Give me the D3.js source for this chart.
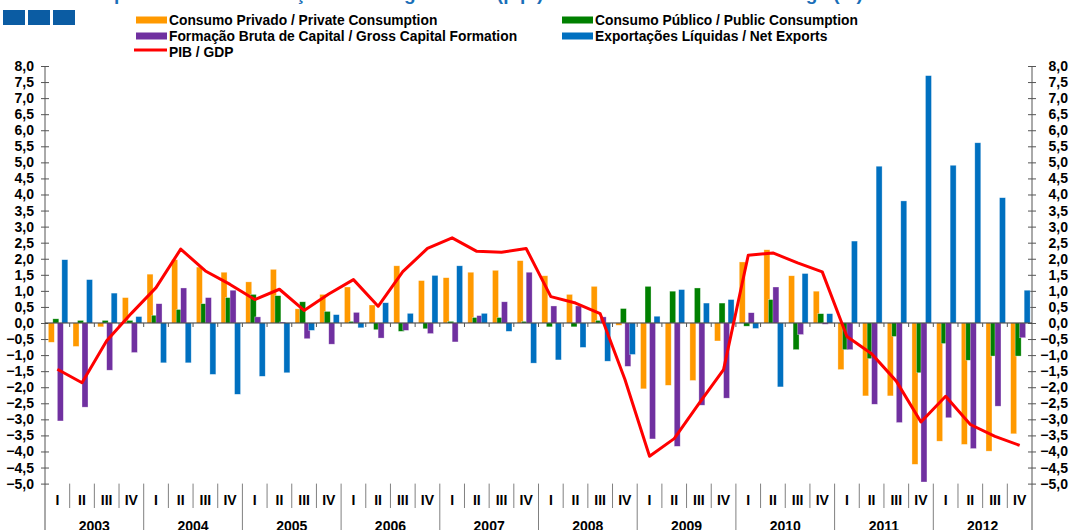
<!DOCTYPE html>
<html>
<head>
<meta charset="utf-8">
<script src="https://cdn.jsdelivr.net/npm/d3@7"></script>
<style>
  html, body { margin: 0; padding: 0; background: #fff; }
  svg { display: block; font-family: "Liberation Sans", Arial, sans-serif; }
</style>
</head>
<body>
<svg id="chart" width="1073" height="530"></svg>
<script>
// ---------------- data ----------------
const years = ["2003","2004","2005","2006","2007","2008","2009","2010","2011","2012"];
const quarterNames = ["I","II","III","IV"];
const yTickValues = [-5,-4.5,-4,-3.5,-3,-2.5,-2,-1.5,-1,-0.5,0,0.5,1,1.5,2,2.5,3,3.5,4,4.5,5,5.5,6,6.5,7,7.5,8];

const privateConsumption = [
  -0.60,-0.73,-0.12, 0.79,  1.52, 1.97, 1.74, 1.58,  1.28, 1.67, 0.44, 0.89,
   1.12, 0.56, 1.78, 1.32,  1.41, 1.58, 1.64, 1.94,  1.47, 0.89, 1.14,-0.07,
  -2.05,-1.94,-1.79,-0.56,  1.90, 2.28, 1.47, 0.99, -1.45,-2.27,-2.27,-4.40,
  -3.68,-3.78,-3.99,-3.45];
const publicConsumption = [
   0.13, 0.08, 0.08, 0.08,  0.24, 0.42, 0.60, 0.79,  0.89, 0.85, 0.66, 0.36,
   0.05,-0.21,-0.26,-0.18,  0.05, 0.17, 0.17, 0.05, -0.12,-0.12, 0.08, 0.45,
   1.14, 0.99, 1.09, 0.62, -0.10, 0.73,-0.83, 0.29, -0.83,-1.11,-0.42,-1.55,
  -0.64,-1.16,-1.03,-1.03];
const grossCapital = [
  -3.05,-2.62,-1.47,-0.92,  0.60, 1.09, 0.79, 1.02,  0.19, 0.03,-0.49,-0.66,
   0.33,-0.47,-0.23,-0.33, -0.59, 0.23, 0.66, 1.58,  0.53, 0.53, 0.19,-1.35,
  -3.61,-3.84,-2.56,-2.34,  0.32, 1.12,-0.36,-0.04, -0.83,-2.53,-3.10,-4.95,
  -2.95,-3.91,-2.59,-0.46];
const netExports = [
   1.97, 1.35, 0.93, 0.20, -1.24,-1.24,-1.60,-2.22, -1.66,-1.55,-0.23, 0.26,
  -0.15, 0.63, 0.30, 1.48,  1.78, 0.30,-0.26,-1.25, -1.15,-0.76,-1.19,-0.98,
   0.21, 1.04, 0.62, 0.73, -0.17,-1.99, 1.54, 0.29,  2.55, 4.88, 3.80, 7.70,
   4.91, 5.61, 3.90, 1.02];
const gdp = [
  -1.44,-1.86,-0.55, 0.30,  1.10, 2.30, 1.62, 1.20,  0.73, 1.05, 0.39, 0.90,
   1.35, 0.52, 1.60, 2.32,  2.65, 2.23, 2.20, 2.32,  0.82, 0.62, 0.29,-1.75,
  -4.15,-3.60,-2.51,-1.45,  2.11, 2.18, 1.87, 1.59, -0.42,-0.96,-1.81,-3.08,
  -2.28,-3.16,-3.53,-3.81];

const seriesNames = [
  "Consumo Privado / Private Consumption",
  "Consumo Público / Public Consumption",
  "Formação Bruta de Capital / Gross Capital Formation",
  "Exportações Líquidas / Net Exports"
];
const gdpName = "PIB / GDP";
const titleText = "Contributos para a Taxa de Variação Homóloga do PIB (p.p.) / Contributions to GDP Change (%)";

// ---------------- styling ----------------
const seriesColors = ["#FF9900", "#008000", "#7030A0", "#0070C0"];
const gdpColor = "#FF0000";

const W = 1073, H = 530;
const plotLeft = 45, plotRight = 1032, plotTop = 66, plotBottom = 483.6;

const svg = d3.select("#chart");

// quarter keys
const keys = [];
years.forEach(y => quarterNames.forEach(q => keys.push(y + "-" + q)));

const x = d3.scaleBand().domain(keys).range([plotLeft, plotRight]).padding(0);
const bw = x.bandwidth();
const seriesKeys = ["priv", "pub", "cap", "net"];
const xInner = d3.scaleBand().domain(seriesKeys).range([bw * 0.135, bw * 0.135 + 18]).padding(0);
const barW = 6;

const y = d3.scaleLinear().domain([-5, 8]).range([plotBottom, plotTop]);
const fmt = v => d3.format(".1f")(v).replace(".", ",");

// ---------------- title (cut off at the top) & logo ----------------
svg.append("text")
  .attr("x", 1).attr("y", -0.5)
  .attr("font-size", 19).attr("font-weight", "bold")
  .attr("fill", "#1A6FB8")
  .text(titleText);

const logo = d3.scaleBand().domain([0,1,2]).range([3, 75]).paddingInner(0.12);
svg.append("g").selectAll("rect").data([0,1,2]).join("rect")
  .attr("x", d => logo(d)).attr("y", 10)
  .attr("width", logo.bandwidth()).attr("height", 15)
  .attr("fill", "#0B5CA3");

// ---------------- legend ----------------
const legendItems = [
  {name: seriesNames[0], color: seriesColors[0], x: 136, y: 20, type: "rect"},
  {name: seriesNames[2], color: seriesColors[2], x: 136, y: 36, type: "rect"},
  {name: gdpName, color: gdpColor, x: 136, y: 51.5, type: "line"},
  {name: seriesNames[1], color: seriesColors[1], x: 562, y: 20, type: "rect"},
  {name: seriesNames[3], color: seriesColors[3], x: 562, y: 36, type: "rect"}
];
const lg = svg.append("g");
legendItems.forEach(it => {
  if (it.type === "rect") {
    lg.append("rect").attr("x", it.x).attr("y", it.y - 3.5).attr("width", 31).attr("height", 7).attr("fill", it.color);
  } else {
    lg.append("line").attr("x1", it.x - 2).attr("x2", it.x + 31).attr("y1", it.y - 1.5).attr("y2", it.y - 1.5)
      .attr("stroke", it.color).attr("stroke-width", 3);
  }
  lg.append("text").attr("x", it.x + 33).attr("y", it.y + 5)
    .attr("font-size", 13.8).attr("font-weight", "bold").attr("fill", "#000")
    .text(it.name);
});

// ---------------- axes ----------------
const axisColor = "#555";
// left
const leftAxis = svg.append("g").attr("transform", `translate(${plotLeft},0)`)
  .call(d3.axisLeft(y).tickValues(yTickValues).tickFormat(fmt).tickSize(4).tickSizeOuter(0));
leftAxis.select(".domain").remove();
leftAxis.selectAll(".tick line").attr("x1", -4).attr("x2", 4).attr("stroke", axisColor);
leftAxis.selectAll(".tick text").attr("x", -11).attr("font-size", 14).attr("font-weight", "bold")
  .attr("font-family", "Liberation Sans, Arial, sans-serif").attr("fill", "#000");
svg.append("line").attr("x1", plotLeft).attr("x2", plotLeft).attr("y1", plotTop).attr("y2", H)
  .attr("stroke", axisColor).attr("stroke-width", 1);

// right
const rightAxis = svg.append("g").attr("transform", `translate(${plotRight},0)`)
  .call(d3.axisRight(y).tickValues(yTickValues).tickFormat(fmt).tickSize(4).tickSizeOuter(0));
rightAxis.select(".domain").remove();
rightAxis.selectAll(".tick line").attr("x1", -4).attr("x2", 4).attr("stroke", axisColor);
rightAxis.selectAll(".tick text").attr("x", 36).attr("text-anchor", "end").attr("font-size", 14).attr("font-weight", "bold")
  .attr("font-family", "Liberation Sans, Arial, sans-serif").attr("fill", "#000");
svg.append("line").attr("x1", plotRight).attr("x2", plotRight).attr("y1", plotTop).attr("y2", H)
  .attr("stroke", axisColor).attr("stroke-width", 1);

// ---------------- bars ----------------
const seriesData = [privateConsumption, publicConsumption, grossCapital, netExports];
seriesData.forEach((vals, si) => {
  svg.append("g").selectAll("rect")
    .data(vals.map((v, i) => ({k: keys[i], v})))
    .join("rect")
    .attr("x", d => x(d.k) + xInner(seriesKeys[si]))
    .attr("y", d => y(Math.max(0, d.v)))
    .attr("width", barW)
    .attr("height", d => Math.abs(y(d.v) - y(0)))
    .attr("fill", seriesColors[si])
    .attr("stroke", "#fff").attr("stroke-opacity", 0.55).attr("stroke-width", 0.6);
});

// zero line with category ticks
svg.append("line").attr("x1", plotLeft).attr("x2", plotRight).attr("y1", y(0)).attr("y2", y(0))
  .attr("stroke", "#333").attr("stroke-width", 1);
svg.append("g").selectAll("line").data(keys.slice(1)).join("line")
  .attr("x1", d => x(d)).attr("x2", d => x(d))
  .attr("y1", y(0)).attr("y2", y(0) + 4)
  .attr("stroke", axisColor);

// ---------------- GDP line ----------------
const line = d3.line().x((d, i) => x(keys[i]) + bw / 2).y(d => y(d));
svg.append("path").datum(gdp).attr("d", line)
  .attr("fill", "none").attr("stroke", gdpColor).attr("stroke-width", 3)
  .attr("stroke-linejoin", "round");

// ---------------- category labels ----------------
const catG = svg.append("g");
keys.forEach((k, i) => {
  const qi = i % 4;
  catG.append("text").attr("x", x(k) + bw / 2).attr("y", 505)
    .attr("text-anchor", "middle").attr("font-size", 14).attr("font-weight", "bold")
    .text(quarterNames[qi]);
  if (i > 0) {
    const isYear = qi === 0;
    catG.append("line").attr("x1", x(k)).attr("x2", x(k))
      .attr("y1", plotBottom).attr("y2", isYear ? H : 508)
      .attr("stroke", "#808080").attr("stroke-width", 1);
  }
});
years.forEach((yr, yi) => {
  const k0 = keys[yi * 4], k3 = keys[yi * 4 + 3];
  const cx = (x(k0) + x(k3) + bw) / 2;
  catG.append("text").attr("x", cx).attr("y", 531)
    .attr("text-anchor", "middle").attr("font-size", 14).attr("font-weight", "bold")
    .text(yr);
});
</script>
</body>
</html>
